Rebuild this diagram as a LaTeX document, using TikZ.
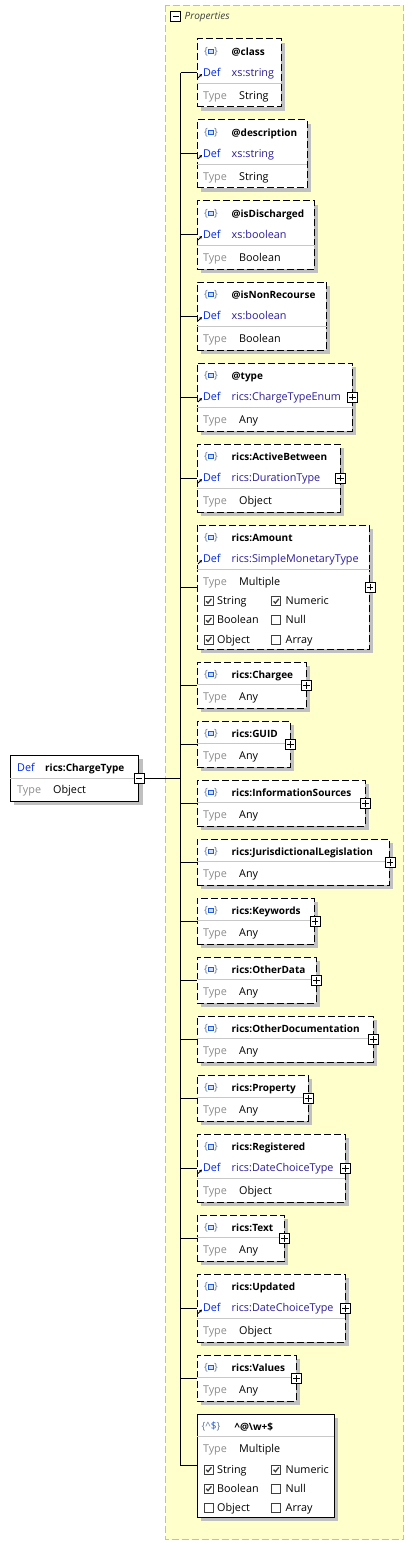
\documentclass[tikz,border=0pt]{standalone}
\usepackage{fontspec}
\setmainfont{Open Sans}
\usetikzlibrary{shadows,arrows.meta}

\definecolor{panelbg}{RGB}{255,255,204}
\definecolor{panelline}{RGB}{190,190,190}
\definecolor{shadegrey}{RGB}{192,192,192}
\definecolor{sepgrey}{RGB}{200,200,200}
\definecolor{defblue}{RGB}{0,40,230}
\definecolor{valblue}{RGB}{45,30,150}
\definecolor{typegrey}{RGB}{140,140,140}
\definecolor{bracegrey}{RGB}{100,120,150}
\definecolor{iconblue}{RGB}{30,90,230}

\tikzset{
  panel/.style={fill=panelbg, draw=panelline, line width=0.9pt, dash pattern=on 7pt off 3pt},
  elemframe/.style={draw, fill=white, line width=0.9pt, anchor=north west, inner sep=0pt,
    general shadow={fill=shadegrey, shadow xshift=4pt, shadow yshift=-4pt}},
  dframe/.style={elemframe, dash pattern=on 7pt off 3pt},
  sframe/.style={elemframe},
  txt/.style={anchor=west, inner sep=0pt, text height=7.7pt, text depth=0.3pt},
  ttl/.style={txt, font=\bfseries},
  deflbl/.style={txt, text=defblue},
  defval/.style={txt, text=valblue},
  typelbl/.style={txt, text=typegrey},
  typeval/.style={txt},
  chklbl/.style={txt},
  hdr/.style={txt, font=\itshape, text=black!75},
  sepline/.style={draw=sepgrey, line width=0.8pt},
  conn/.style={draw, line width=0.9pt},
  refarr/.style={-{Stealth[length=3pt,width=3pt]}, line width=0.9pt},
  btn/.style={draw, fill=white, minimum size=10pt, inner sep=0pt, line width=0.8pt},
  plusbtn/.style={btn, path picture={
    \draw[line width=0.8pt] ([xshift=-3.2pt]path picture bounding box.center) -- ([xshift=3.2pt]path picture bounding box.center)
      ([yshift=-3.2pt]path picture bounding box.center) -- ([yshift=3.2pt]path picture bounding box.center);}},
  minusbtn/.style={btn, path picture={
    \draw[line width=0.8pt] ([xshift=-3.2pt]path picture bounding box.center) -- ([xshift=3.2pt]path picture bounding box.center);}},
  icon/.style={inner sep=0pt, text=bracegrey, font=\fontsize{10}{10}\selectfont, path picture={
    \draw[iconblue, fill=iconblue!20, line width=0.8pt] ([xshift=-2.6pt,yshift=-2.2pt]path picture bounding box.center)
      rectangle ([xshift=2.6pt,yshift=2.2pt]path picture bounding box.center);}},
  cbox/.style={draw=black!75, fill=white, minimum size=9pt, inner sep=0pt, line width=0.7pt},
  chkon/.style={cbox, path picture={
    \draw[line width=1.3pt] ([xshift=-2.6pt]path picture bounding box.center) -- ([xshift=-0.8pt,yshift=-2pt]path picture bounding box.center)
      -- ([xshift=2.6pt,yshift=2.4pt]path picture bounding box.center);}},
  chkoff/.style={cbox},
}

% element with a Def row: [height]{name}{top}{right}{title}{def}{type}
\newcommand{\propdef}[7][68]{%
  \node[dframe, minimum width={#4-196.5}, minimum height=#1] (#2) at (196.5,#3) {};
  \node[icon] at ([shift={(14.5pt,-13pt)}]#2.north west) {\{\hspace{6pt}\}};
  \node[ttl] at ([shift={(35pt,-13pt)}]#2.north west) {#5};
  \node[deflbl] at ([shift={(6.3pt,-34pt)}]#2.north west) {Def};
  \draw[refarr] ([shift={(1.5pt,-39.5pt)}]#2.north west) -- ++(4pt,4pt);
  \node[defval] at ([shift={(35pt,-34pt)}]#2.north west) {#6};
  \draw[sepline] ([yshift=-44.5pt]#2.north west) -- ([yshift=-44.5pt]#2.north east);
  \node[typelbl] at ([shift={(6.3pt,-57pt)}]#2.north west) {Type};
  \node[typeval] at ([shift={(42.5pt,-57pt)}]#2.north west) {#7};
  \draw[conn] (trk |- #2.west) -- (#2.west);
}
% element of type Any: {name}{top}{right}{title}
\newcommand{\propany}[4]{%
  \node[dframe, minimum width={#3-196.5}, minimum height=46] (#1) at (196.5,#2) {};
  \node[icon] at ([shift={(14.5pt,-12.5pt)}]#1.north west) {\{\hspace{6pt}\}};
  \node[ttl] at ([shift={(35pt,-12.5pt)}]#1.north west) {#4};
  \draw[sepline] ([yshift=-22pt]#1.north west) -- ([yshift=-22pt]#1.north east);
  \node[typelbl] at ([shift={(6.3pt,-35pt)}]#1.north west) {Type};
  \node[typeval] at ([shift={(42.5pt,-35pt)}]#1.north west) {Any};
  \node[plusbtn] (#1p) at (#1.east) {};
  \draw[conn] (trk |- #1.west) -- (#1.west);
}
% row of two check boxes: {box}{offset}{state}{label}{state}{label}
\newcommand{\chkrow}[6]{%
  \node[#3] at ([shift={(12.3pt,-#2pt)}]#1.north west) {};
  \node[chklbl] at ([shift={(20.5pt,-#2pt)}]#1.north west) {#4};
  \node[#5] at ([shift={(79.7pt,-#2pt)}]#1.north west) {};
  \node[chklbl] at ([shift={(89pt,-#2pt)}]#1.north west) {#6};
}

\begin{document}
\begin{tikzpicture}[x=1pt,y=-1pt,font=\fontsize{10.8}{12}\selectfont]
\useasboundingbox (0,0) rectangle (414,1546);

% properties group
\draw[panel] (165.5,5.5) rectangle (403.5,1539.5);
\node[minusbtn] (propsm) at (175.7,16) {};
\node[hdr] (props) at (184.5,16) {Properties};
\coordinate (trk) at (180.5,0);

% root element
\node[sframe, minimum width=128.3, minimum height=46] (ct) at (10,755) {};
\node[deflbl] at ([shift={(7pt,-12.5pt)}]ct.north west) {Def};
\node[ttl] at ([shift={(35pt,-12.5pt)}]ct.north west) {rics:ChargeType};
\draw[sepline] (ct.west) -- (ct.east);
\node[typelbl] at ([shift={(7pt,-35pt)}]ct.north west) {Type};
\node[typeval] at ([shift={(43pt,-35pt)}]ct.north west) {Object};
\node[minusbtn] (ctm) at (ct.east) {};

% attributes
\propdef{class}{38.5}{280.5}{@class}{xs:string}{String}
\propdef{descr}{119.5}{306.5}{@description}{xs:string}{String}
\propdef{disch}{200.5}{314}{@isDischarged}{xs:boolean}{Boolean}
\propdef{nonrec}{281.5}{326}{@isNonRecourse}{xs:boolean}{Boolean}
\propdef{type}{362.5}{351.5}{@type}{rics:ChargeTypeEnum}{Any}
\node[plusbtn] (typep) at (type.east) {};

% elements
\propdef{active}{443.5}{339.5}{rics:ActiveBetween}{rics:DurationType}{Object}
\node[plusbtn] (activep) at (active.east) {};
\propdef[124.5]{amount}{524.5}{369}{rics:Amount}{rics:SimpleMonetaryType}{Multiple}
\node[plusbtn] (amountp) at (amount.east) {};
\chkrow{amount}{76.7}{chkon}{String}{chkon}{Numeric}
\chkrow{amount}{95.7}{chkon}{Boolean}{chkoff}{Null}
\chkrow{amount}{115}{chkon}{Object}{chkoff}{Array}
\propany{chargee}{662}{305.5}{rics:Chargee}
\propany{guid}{721}{289.5}{rics:GUID}
\propany{infos}{780}{364.5}{rics:InformationSources}
\propany{juris}{839}{389}{rics:JurisdictionalLegislation}
\propany{keyw}{898}{314}{rics:Keywords}
\propany{odata}{957}{315.5}{rics:OtherData}
\propany{odoc}{1016}{372.5}{rics:OtherDocumentation}
\propany{prop}{1075}{307.5}{rics:Property}
\propdef{reg}{1134}{344.5}{rics:Registered}{rics:DateChoiceType}{Object}
\node[plusbtn] (regp) at (reg.east) {};
\propany{text}{1215}{283.5}{rics:Text}
\propdef{upd}{1274}{344.5}{rics:Updated}{rics:DateChoiceType}{Object}
\node[plusbtn] (updp) at (upd.east) {};
\propany{vals}{1355}{295.5}{rics:Values}

% pattern properties
\node[sframe, minimum width=137, minimum height=102.5] (pat) at (196.5,1414) {};
\node[icon, path picture={}] at ([shift={(14.5pt,-12.5pt)}]pat.north west) {\{\textasciicircum\textcolor{iconblue}{\$}\}};
\node[ttl] at ([shift={(38pt,-12.5pt)}]pat.north west) {\textasciicircum @\textbackslash w+\$};
\draw[sepline] ([yshift=-22pt]pat.north west) -- ([yshift=-22pt]pat.north east);
\node[typelbl] at ([shift={(6.3pt,-35pt)}]pat.north west) {Type};
\node[typeval] at ([shift={(42.5pt,-35pt)}]pat.north west) {Multiple};
\chkrow{pat}{55.7}{chkon}{String}{chkon}{Numeric}
\chkrow{pat}{74.7}{chkon}{Boolean}{chkoff}{Null}
\chkrow{pat}{94}{chkoff}{Object}{chkoff}{Array}
\draw[conn] (trk |- pat.west) -- (pat.west);

% connectors
\draw[conn] (ctm.east) -- (trk |- ctm.east);
\draw[conn] (trk |- class.west) -- (trk |- pat.west);
\end{tikzpicture}
\end{document}
